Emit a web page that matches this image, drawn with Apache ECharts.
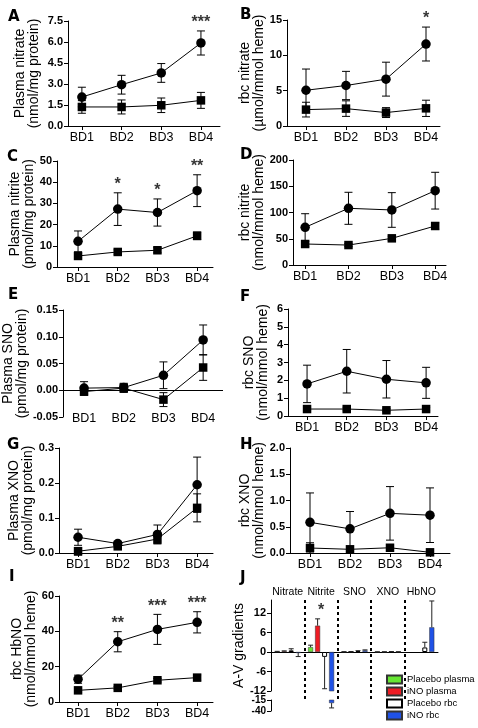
<!DOCTYPE html>
<html><head><meta charset="utf-8">
<script src="https://cdn.jsdelivr.net/npm/echarts@6/dist/echarts.min.js"></script>
<style>html,body{margin:0;padding:0;background:#fff}#c{width:478px;height:728px}</style>
</head><body><div id="c"></div>
<script>
const categories = ['BD1', 'BD2', 'BD3', 'BD4'];

// A: Plasma nitrate
const plasmaNitrateINO = [2.07, 2.95, 3.79, 5.93];
const plasmaNitrateINOErr = [0.7, 0.67, 0.67, 0.86];
const plasmaNitratePlacebo = [1.36, 1.36, 1.48, 1.83];
const plasmaNitratePlaceboErr = [0.45, 0.5, 0.52, 0.57];
const plasmaNitrateStars = ['', '', '', '***'];
// B: rbc nitrate
const rbcNitrateINO = [5.06, 5.73, 6.63, 11.6];
const rbcNitrateINOErr = [3.0, 2.0, 2.4, 2.4];
const rbcNitratePlacebo = [2.32, 2.46, 1.9, 2.5];
const rbcNitratePlaceboErr = [1.04, 1.1, 0.7, 1.15];
const rbcNitrateStars = ['', '', '', '*'];
// C: Plasma nitrite
const plasmaNitriteINO = [12.1, 27.3, 25.7, 36.0];
const plasmaNitriteINOErr = [4.9, 7.7, 6.4, 7.5];
const plasmaNitritePlacebo = [5.2, 7.1, 7.9, 14.7];
const plasmaNitritePlaceboErr = [1.0, 1.0, 1.2, 1.8];
const plasmaNitriteStars = ['', '*', '*', '**'];
// D: rbc nitrite
const rbcNitriteINO = [71.7, 108, 104.8, 141.6];
const rbcNitriteINOErr = [26, 30.5, 33, 35];
const rbcNitritePlacebo = [40, 38, 50.8, 74.3];
const rbcNitritePlaceboErr = [5, 3, 4, 6];
// E: Plasma SNO
const plasmaSNOINO = [0.004, 0.005, 0.028, 0.094];
const plasmaSNOINOErr = [0.012, 0.008, 0.025, 0.028];
const plasmaSNOPlacebo = [-0.0025, 0.004, -0.0175, 0.0425];
const plasmaSNOPlaceboErr = [0.007, 0.008, 0.013, 0.024];
// F: rbc SNO
const rbcSNOINO = [1.8, 2.51, 2.06, 1.86];
const rbcSNOINOErr = [1.05, 1.22, 1.05, 0.87];
const rbcSNOPlacebo = [0.39, 0.39, 0.32, 0.39];
const rbcSNOPlaceboErr = [0.1, 0.1, 0.08, 0.1];
// G: Plasma XNO
const plasmaXNOINO = [0.045, 0.027, 0.053, 0.195];
const plasmaXNOINOErr = [0.023, 0.005, 0.027, 0.079];
const plasmaXNOPlacebo = [0.005, 0.019, 0.04, 0.129];
const plasmaXNOPlaceboErr = [0.011, 0.004, 0.013, 0.04];
// H: rbc XNO
const rbcXNOINO = [0.584, 0.46, 0.755, 0.72];
const rbcXNOINOErr = [0.56, 0.33, 0.51, 0.52];
const rbcXNOPlacebo = [0.095, 0.07, 0.1, 0.013];
const rbcXNOPlaceboErr = [0.1, 0.05, 0.05, 0.02];
// I: rbc HbNO
const rbcHbNOINO = [12.9, 34.1, 41.1, 45.1];
const rbcHbNOINOErr = [2.3, 5.7, 8.5, 6.0];
const rbcHbNOPlacebo = [6.6, 8.0, 12.3, 13.8];
const rbcHbNOPlaceboErr = [1.0, 0.8, 1.0, 1.5];
const rbcHbNOStars = ['', '**', '***', '***'];
// J: A-V gradients
const avGroups = ['Nitrate', 'Nitrite', 'SNO', 'XNO', 'HbNO'];
const avSeriesNames = ['Placebo plasma', 'iNO plasma', 'Placebo rbc', 'iNO rbc'];
const avPlaceboPlasma = [0.1, 1.5, 0.05, 0.03, null];
const avPlaceboPlasmaErr = [0.1, 0.6, 0.05, 0.02, null];
const avINOPlasma = [0.25, 8.1, 0.1, 0.05, null];
const avINOPlasmaErr = [0.1, 2.1, 0.05, 0.02, null];
const avPlaceboRbc = [0.5, -1.5, 0.3, 0.05, 1.4];
const avPlaceboRbcErr = [0.5, 9.8, 0.1, 0.03, 1.6];
const avINORbc = [-0.3, -22, 0.5, 0.05, 7.6];
const avINORbcErr = [1.1, 11, 0.15, 0.03, 8.1];
const avStars = ['', '*', '', '', ''];
const avUpperTicks = [-12, -6, 0, 6, 12];
const avLowerTicks = [-40, -15];

const FONT = 'Liberation Sans';
const panels = [
  {letter:'A', lx:8, ly:10, g:[68,21,220,126], x:[0.65,4.48], y:[0,7.5,1.5], dec:1, gap:27, name:'Plasma nitrate\n(nmol/mg protein)',
   ino:plasmaNitrateINO, inoErr:plasmaNitrateINOErr, pla:plasmaNitratePlacebo, plaErr:plasmaNitratePlaceboErr, stars:plasmaNitrateStars},
  {letter:'B', lx:240, ly:8, g:[287,20,440,126], x:[0.525,4.35], y:[0,15,5], dec:0, gap:15, name:'rbc nitrate\n(µmol/mmol heme)',
   ino:rbcNitrateINO, inoErr:rbcNitrateINOErr, pla:rbcNitratePlacebo, plaErr:rbcNitratePlaceboErr, stars:rbcNitrateStars},
  {letter:'C', lx:7, ly:150, g:[57,161,213,267], x:[0.47,4.4], y:[0,50,10], dec:0, gap:18, name:'Plasma nitrite\n(pmol/mg protein)',
   ino:plasmaNitriteINO, inoErr:plasmaNitriteINOErr, pla:plasmaNitritePlacebo, plaErr:plasmaNitritePlaceboErr, stars:plasmaNitriteStars},
  {letter:'D', lx:240, ly:148, g:[293,160,446,265], x:[0.72,4.25], y:[0,200,50], dec:0, gap:22, name:'rbc nitrite\n(nmol/mmol heme)',
   ino:rbcNitriteINO, inoErr:rbcNitriteINOErr, pla:rbcNitritePlacebo, plaErr:rbcNitritePlaceboErr, stars:null},
  {letter:'E', lx:8, ly:288, g:[63,310,223,417], x:[0.47,4.5], y:[-0.05,0.15,0.05], dec:2, gap:26, zeroLine:true, name:'Plasma SNO\n(pmol/mg protein)',
   ino:plasmaSNOINO, inoErr:plasmaSNOINOErr, pla:plasmaSNOPlacebo, plaErr:plasmaSNOPlaceboErr, stars:null},
  {letter:'F', lx:240, ly:290, g:[288,309,438,416], x:[0.52,4.3], y:[0,6,1], dec:0, gap:18, name:'rbc SNO\n(nmol/mmol heme)',
   ino:rbcSNOINO, inoErr:rbcSNOINOErr, pla:rbcSNOPlacebo, plaErr:rbcSNOPlaceboErr, stars:null},
  {letter:'G', lx:7, ly:438, g:[59,448,213,553], x:[0.52,4.4], y:[0,0.3,0.1], dec:1, gap:22, name:'Plasma XNO\n(pmol/mg protein)',
   ino:plasmaXNOINO, inoErr:plasmaXNOINOErr, pla:plasmaXNOPlacebo, plaErr:plasmaXNOPlaceboErr, stars:null},
  {letter:'H', lx:240, ly:438, g:[290,448,450,553], x:[0.5,4.5], y:[0,2,0.5], dec:1, gap:19, name:'rbc XNO\n(nmol/mmol heme)',
   ino:rbcXNOINO, inoErr:rbcXNOINOErr, pla:rbcXNOPlacebo, plaErr:rbcXNOPlaceboErr, stars:null},
  {letter:'I', lx:9, ly:570, g:[59,596,213,702], x:[0.52,4.4], y:[0,60,20], dec:0, gap:20, name:'rbc HbNO\n(nmol/mmol heme)',
   ino:rbcHbNOINO, inoErr:rbcHbNOINOErr, pla:rbcHbNOPlacebo, plaErr:rbcHbNOPlaceboErr, stars:rbcHbNOStars}
];

const black = '#000';
function lineErr(params, api) {
  const x = api.value(0), m = api.value(1), e = api.value(2);
  const t = api.coord([x, m + e]), b = api.coord([x, m - e]);
  const st = {stroke: black, lineWidth: 1};
  return {type: 'group', children: [
    {type: 'line', shape: {x1: t[0], y1: t[1], x2: b[0], y2: b[1]}, style: st},
    {type: 'line', shape: {x1: t[0] - 4, y1: t[1], x2: t[0] + 4, y2: t[1]}, style: st},
    {type: 'line', shape: {x1: b[0] - 4, y1: b[1], x2: b[0] + 4, y2: b[1]}, style: st}
  ]};
}
function barErr(params, api) {
  const cat = api.value(0), v = api.value(1), e = api.value(2), s = api.value(3);
  const off = (s - 1.5) * 7;
  const p0 = api.coord([cat, v]);
  const p1 = api.coord([cat, v + (v >= 0 ? e : -e)]);
  const x = p0[0] + off;
  const st = {stroke: '#222', lineWidth: 1};
  return {type: 'group', children: [
    {type: 'line', shape: {x1: x, y1: p0[1], x2: x, y2: p1[1]}, style: st},
    {type: 'line', shape: {x1: x - 2.5, y1: p1[1], x2: x + 2.5, y2: p1[1]}, style: st}
  ]};
}

const grid = [], xAxis = [], yAxis = [], series = [], graphic = [];
panels.forEach((p, i) => {
  grid.push({left: p.g[0], top: p.g[1], width: p.g[2] - p.g[0], height: p.g[3] - p.g[1]});
  xAxis.push({
    gridIndex: i, type: 'value', min: p.x[0], max: p.x[1],
    axisLine: {show: !p.zeroLine, onZero: false, lineStyle: {color: black, width: 1}},
    axisTick: {show: !p.zeroLine, customValues: [1, 2, 3, 4], length: 4, lineStyle: {color: black}},
    axisLabel: {customValues: [1, 2, 3, 4], formatter: v => categories[Math.round(v) - 1], fontSize: 12.5, color: black, fontFamily: FONT, margin: p.zeroLine ? -5 : 5},
    splitLine: {show: false}
  });
  yAxis.push({
    gridIndex: i, type: 'value', min: p.y[0], max: p.y[1], interval: p.y[2],
    axisLine: {show: true, onZero: false, lineStyle: {color: black, width: 1}},
    axisTick: {show: true, length: 4, lineStyle: {color: black}},
    axisLabel: {formatter: v => v.toFixed(p.dec), fontSize: 11, fontWeight: 'bold', color: black, fontFamily: FONT, margin: 5},
    splitLine: {show: false},
    name: p.name, nameLocation: 'middle', nameGap: p.gap,
    nameTextStyle: {fontSize: 14, lineHeight: 14, color: black, fontFamily: FONT}
  });
  const xi = i;
  series.push({type: 'custom', xAxisIndex: xi, yAxisIndex: xi, renderItem: lineErr, z: 1,
    data: p.pla.map((v, k) => [k + 1, v, p.plaErr[k]])});
  series.push({type: 'custom', xAxisIndex: xi, yAxisIndex: xi, renderItem: lineErr, z: 1,
    data: p.ino.map((v, k) => [k + 1, v, p.inoErr[k]])});
  const plaLine = {type: 'line', xAxisIndex: xi, yAxisIndex: xi, symbol: 'rect', symbolSize: 8.5, z: 3,
    itemStyle: {color: black}, lineStyle: {color: black, width: 1},
    data: p.pla.map((v, k) => [k + 1, v])};
  if (p.zeroLine) {
    plaLine.markLine = {silent: true, symbol: 'none', label: {show: false},
      lineStyle: {color: black, type: 'solid', width: 1}, data: [{yAxis: 0}]};
  }
  series.push(plaLine);
  series.push({type: 'line', xAxisIndex: xi, yAxisIndex: xi, symbol: 'circle', symbolSize: 9.5, z: 4,
    itemStyle: {color: black}, lineStyle: {color: black, width: 1},
    data: p.ino.map((v, k) => [k + 1, v])});
  if (p.stars) {
    const sd = [];
    p.stars.forEach((s, k) => { if (s) sd.push([k + 1, p.ino[k] + p.inoErr[k], s]); });
    series.push({type: 'scatter', xAxisIndex: xi, yAxisIndex: xi, symbolSize: 0, z: 5, data: sd,
      label: {show: true, position: 'top', distance: 0, formatter: q => q.value[2], fontSize: 16, fontWeight: 'bold', color: black, fontFamily: FONT}});
  }
  graphic.push({type: 'text', left: p.lx, top: p.ly, style: {text: p.letter, fontSize: 15, fontWeight: 'bold', fontFamily: 'DejaVu Sans', fill: black}});
});
graphic.push({type: 'text', left: 240, top: 571, style: {text: 'J', fontSize: 15, fontWeight: 'bold', fontFamily: 'DejaVu Sans', fill: black}});

// Panel J grids: 9 upper, 10 lower (broken axis), 11 separators/labels
const JL = 271, JW = 167;
grid.push({left: JL, top: 600, width: JW, height: 91});
grid.push({left: JL, top: 700, width: JW, height: 11});
grid.push({left: JL, top: 600, width: JW, height: 100});
xAxis.push({gridIndex: 9, type: 'category', data: avGroups,
  axisLine: {onZero: true, lineStyle: {color: black, width: 1}}, axisTick: {show: false}, axisLabel: {show: false}, splitLine: {show: false}});
xAxis.push({gridIndex: 10, type: 'category', data: avGroups, show: false});
xAxis.push({gridIndex: 11, type: 'category', data: avGroups, position: 'top',
  axisLine: {show: false}, axisTick: {show: false, interval: 0},
  axisLabel: {interval: 0, fontSize: 10.5, color: black, fontFamily: FONT, margin: 2},
  splitLine: {show: true, interval: 0, showMinLine: false, showMaxLine: false, lineStyle: {color: black, width: 2, type: [3, 3]}}});
yAxis.push({gridIndex: 9, type: 'value', min: -12, max: 16,
  axisLine: {show: true, lineStyle: {color: black}},
  axisTick: {show: true, length: 4, customValues: avUpperTicks, lineStyle: {color: black}},
  axisLabel: {customValues: avUpperTicks, fontSize: 11, fontWeight: 'bold', color: black, fontFamily: FONT, margin: 5},
  splitLine: {show: false},
  name: 'A-V gradients', nameLocation: 'middle', nameGap: 16,
  nameTextStyle: {fontSize: 14, color: black, fontFamily: FONT}});
yAxis.push({gridIndex: 10, type: 'value', min: -40, max: -15,
  axisLine: {show: true, lineStyle: {color: black}},
  axisTick: {show: true, length: 4, customValues: avLowerTicks, lineStyle: {color: black}},
  axisLabel: {customValues: avLowerTicks, fontSize: 10, fontWeight: 'bold', color: black, fontFamily: FONT, margin: 5},
  splitLine: {show: false}});
yAxis.push({gridIndex: 11, type: 'value', min: 0, max: 1, show: false});

const avVals = [avPlaceboPlasma, avINOPlasma, avPlaceboRbc, avINORbc];
const avErrs = [avPlaceboPlasmaErr, avINOPlasmaErr, avPlaceboRbcErr, avINORbcErr];
const avColors = ['#66e633', '#ee1c24', '#ffffff', '#2052e6'];
[9, 10].forEach(gi => {
  avVals.forEach((vals, s) => {
    series.push({type: 'bar', name: avSeriesNames[s], xAxisIndex: gi, yAxisIndex: gi, barWidth: 5, barGap: '40%',
      clip: true, data: vals.map(v => v == null ? '-' : v),
      itemStyle: {color: avColors[s], borderColor: s === 2 ? '#000' : '#333', borderWidth: s === 2 ? 1 : 0.5}});
  });
  avVals.forEach((vals, s) => {
    const d = [];
    vals.forEach((v, k) => { if (v != null) d.push([k, v, avErrs[s][k], s]); });
    series.push({type: 'custom', xAxisIndex: gi, yAxisIndex: gi, renderItem: barErr, clip: true, z: 3, data: d});
  });
});
const avStarData = [];
avStars.forEach((s, k) => { if (s) avStarData.push([k, avINOPlasma[k] + avINOPlasmaErr[k], s]); });
series.push({type: 'scatter', xAxisIndex: 9, yAxisIndex: 9, symbolSize: 0, data: avStarData,
  label: {show: true, position: 'top', distance: 0, formatter: q => q.value[2], fontSize: 16, fontWeight: 'bold', color: black, fontFamily: FONT}});

const chart = echarts.init(document.getElementById('c'), null, {renderer: 'canvas'});
chart.setOption({
  animation: false,
  backgroundColor: '#fff',
  textStyle: {fontFamily: FONT},
  grid, xAxis, yAxis, series, graphic,
  legend: {data: avSeriesNames, orient: 'vertical', left: 381, top: 669, itemWidth: 15, itemHeight: 8, itemGap: 1,
    icon: 'rect', textStyle: {fontSize: 9.5, lineHeight: 11, color: black, fontFamily: FONT}, selectedMode: false}
});
</script></body></html>
